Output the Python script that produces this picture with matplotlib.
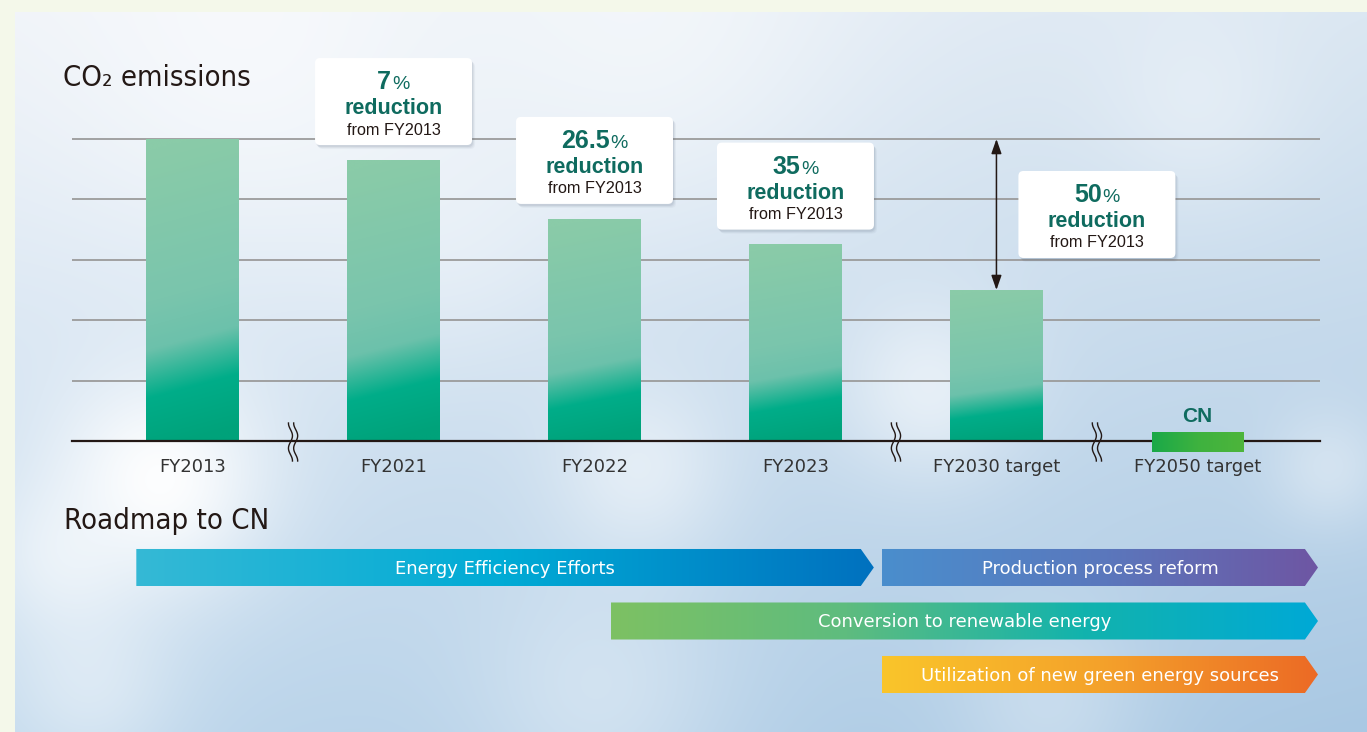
import numpy as np
import matplotlib
matplotlib.use('Agg')
import matplotlib.pyplot as plt
import matplotlib.transforms as mtransforms
from matplotlib.patches import FancyBboxPatch, Polygon
from matplotlib.colors import to_rgb

# --- data -------------------------------------------------------------
years = ['FY2013', 'FY2021', 'FY2022', 'FY2023', 'FY2030 target', 'FY2050 target']
emissions = [100, 93, 73.5, 65, 50, 0]          # index, FY2013 = 100
reductions = ['7', '26.5', '35', '50']           # % reduction from FY2013 (FY2021..FY2030)
cn_marker = (-3.6, 3.0)                          # small CN bar drawn across the baseline
axis_breaks = [0.5, 3.5, 4.5]

phases = ['Energy Efficiency Efforts', 'Production process reform',
          'Conversion to renewable energy', 'Utilization of new green energy sources']
phase_start = [-0.28, 3.43, 2.08, 3.43]
phase_end = [3.39, 5.60, 5.60, 5.60]
phase_row = [0, 0, 1, 2]
phase_colors = [['#35b9d6', '#00abd5', '#0071bf'],
                ['#4a8ecd', '#5a78bd', '#6e56a3'],
                ['#7dc163', '#5ebc7f', '#12b3ad', '#00a9d6'],
                ['#fac52a', '#f4a22b', '#ec6a25']]

W, H = 1367, 732
TEAL = '#0f6b5f'
INK = '#231815'
BOX_W, BOX_H = 157, 87

CLOUDS = [(160, 480, 110, 0.95), (60, 560, 80, 0.5), (250, 60, 220, 0.6),
          (650, 40, 200, 0.5), (640, 470, 90, 0.5), (930, 390, 90, 0.55),
          (450, 250, 120, 0.25), (1200, 110, 100, 0.3), (90, 690, 90, 0.4),
          (600, 700, 130, 0.35), (1050, 710, 100, 0.3), (1330, 470, 60, 0.35)]


def px_box(x0, y0, x1, y1):
    return [x0 / W, 1 - y1 / H, (x1 - x0) / W, (y1 - y0) / H]


def ramp(colors, t):
    stops = np.linspace(0, 1, len(colors))
    rgb = np.array([to_rgb(c) for c in colors])
    return np.stack([np.interp(t, stops, rgb[:, k]) for k in range(3)], axis=-1)


def sky_image():
    h, w = 360, 676
    gy, gx = np.mgrid[0:h, 0:w]
    X = gx / (w - 1)
    Y = gy / (h - 1)
    c = [np.array(to_rgb(k)) for k in ('#eef2f8', '#dbe7f2', '#c0d8ec', '#a9c8e3')]
    img = (((1 - X) * (1 - Y))[..., None] * c[0] + (X * (1 - Y))[..., None] * c[1]
           + ((1 - X) * Y)[..., None] * c[2] + (X * Y)[..., None] * c[3])
    px_x = 15 + X * (W - 15)
    px_y = 12 + Y * (H - 12)
    for cx, cy, r, a in CLOUDS:
        m = a * np.exp(-((px_x - cx) ** 2 + (px_y - cy) ** 2) / r ** 2)
        img = img * (1 - m[..., None]) + m[..., None]
    return np.clip(img, 0, 1)


def bar_gradient():
    t = np.linspace(0, 1, 200)[:, None]
    xf = np.linspace(0, 1, 20)[None, :]
    te = np.clip(t - 0.08 * (xf - 0.5), 0, 1)
    stops = [0, 0.18, 0.34, 0.5, 1.0]
    cols = np.array([to_rgb(k) for k in ('#00a27a', '#00ad89', '#6cc1ab', '#7ac5ad', '#8acba8')])
    return np.stack([np.interp(te, stops, cols[:, k]) for k in range(3)], axis=-1)


fig = plt.figure(figsize=(W / 100, H / 100), dpi=100, facecolor='#f4f8ea')

# sky background panel
bg = fig.add_axes(px_box(15, 12, W, H))
bg.imshow(sky_image(), aspect='auto', interpolation='bilinear')
bg.set_axis_off()

# --- emissions chart ----------------------------------------------------
ax = fig.add_axes(px_box(72, 139, 1320, 441))
xlim = (-0.6, 5.61)
ax.patch.set_visible(False)
for s in ax.spines.values():
    s.set_visible(False)
ax.set_yticks([])
x = np.arange(len(years))
ax.set_xticks(x, years, fontsize=13, color='#333333', family='DejaVu Sans')
ax.tick_params(axis='x', length=0, pad=12)

ax.hlines([20, 40, 60, 80, 100], xlim[0], xlim[1], color='#9b9b9b', lw=1.3, zorder=1, clip_on=False)
ax.axhline(0, color=INK, lw=1.6, zorder=4, clip_on=False)

bars = ax.bar(x[:5], emissions[:5], width=0.46, color='none', zorder=3)
for rect in bars:
    x0, bw, bh = rect.get_x(), rect.get_width(), rect.get_height()
    ax.imshow(bar_gradient(), extent=[x0, x0 + bw, 0, bh], origin='lower',
              aspect='auto', interpolation='bilinear', zorder=3)

cn = ax.bar(x[5], cn_marker[1] - cn_marker[0], bottom=cn_marker[0], width=0.455,
            color='none', clip_on=False)[0]
im = ax.imshow(ramp(['#1aa948', '#3eb23f', '#4db53b'], np.linspace(0, 1, 64))[None],
               extent=[cn.get_x(), cn.get_x() + cn.get_width(), cn_marker[0], cn_marker[1]],
               aspect='auto', interpolation='bilinear', zorder=5)
im.set_clip_on(False)
ax.text(x[5], 6.3, 'CN', ha='center', va='baseline', fontsize=15, fontweight='bold',
        color=TEAL, family='Liberation Sans')

ax.set_xlim(*xlim)
ax.set_ylim(0, 100)


def anchored(xd, yd):
    return mtransforms.Affine2D() + mtransforms.ScaledTranslation(xd, yd, ax.transData)


# axis break marks
wy = np.linspace(-19, 19, 80)
wave = 2.0 * np.sin(2 * np.pi * wy / 25)
for xb in axis_breaks:
    tr = anchored(xb, 0)
    for dx in (-2.6, 2.6):
        ax.plot(wave + dx, wy - 1, transform=tr, color=INK, lw=1.0, clip_on=False, zorder=5)

# 50% arrow between FY2013 level and FY2030 target
ax.annotate('', xy=(x[4], emissions[0]), xytext=(x[4], emissions[4]),
            arrowprops=dict(arrowstyle='<|-|>,head_length=0.8,head_width=0.28', color=INK,
                            lw=1.1, shrinkA=0, shrinkB=0, mutation_scale=11),
            annotation_clip=False, zorder=6)

renderer = fig.canvas.get_renderer()


def label_box(xd, yd, pct):
    tr = anchored(xd, yd)
    for k, a in enumerate([0.10, 0.07, 0.05]):
        ax.add_patch(FancyBboxPatch((-BOX_W / 2 + 1 + k, -2 - k), BOX_W, BOX_H,
                                    boxstyle='round,pad=0,rounding_size=5', transform=tr,
                                    fc='#4a5a70', ec='none', alpha=a, zorder=6, clip_on=False))
    ax.add_patch(FancyBboxPatch((-BOX_W / 2, 0), BOX_W, BOX_H,
                                boxstyle='round,pad=0,rounding_size=5', transform=tr,
                                fc='white', ec='none', zorder=7, clip_on=False))
    num = ax.text(0, 56, pct, transform=tr, fontsize=18, fontweight='bold', color=TEAL,
                  ha='left', va='baseline', family='Liberation Sans', zorder=8)
    sign = ax.text(0, 56, '%', transform=tr, fontsize=14, color=TEAL,
                   ha='left', va='baseline', family='Liberation Sans', zorder=8)
    wn = num.get_window_extent(renderer).width
    ws = sign.get_window_extent(renderer).width
    left = -(wn + ws + 1) / 2
    num.set_x(left)
    sign.set_x(left + wn + 1)
    ax.text(0, 31, 'reduction', transform=tr, fontsize=15.5, fontweight='bold', color=TEAL,
            ha='center', va='baseline', family='Liberation Sans', zorder=8)
    ax.text(0, 10.5, 'from FY2013', transform=tr, fontsize=11.7, color=INK,
            ha='center', va='baseline', family='Liberation Sans', zorder=8)


for i in range(3):
    label_box(x[i + 1], emissions[i + 1] + 5, reductions[i])
# target box sits beside the arrow, centred on its midpoint
label_box(axis_breaks[2], (emissions[0] + emissions[4]) / 2 - 14.4, reductions[3])

# --- roadmap ------------------------------------------------------------
rax = fig.add_axes(px_box(72, 540.75, 1320, 701.25))
rax.set_xlim(*xlim)
rax.set_ylim(2.5, -0.5)
rax.set_axis_off()
tip = 0.065
half = 0.346
for name, s, e, r, cols in zip(phases, phase_start, phase_end, phase_row, phase_colors):
    poly = Polygon([(s, r - half), (e - tip, r - half), (e, r), (e - tip, r + half), (s, r + half)],
                   closed=True, fc='none', ec='none')
    rax.add_patch(poly)
    g = rax.imshow(ramp(cols, np.linspace(0, 1, 256))[None], extent=[s, e, r + half, r - half],
                   aspect='auto', interpolation='bilinear', zorder=2)
    g.set_clip_path(poly)
    rax.text((s + e) / 2, r + 0.12, name, ha='center', va='baseline', fontsize=13,
             color='white', family='DejaVu Sans', zorder=3)
rax.set_xlim(*xlim)
rax.set_ylim(2.5, -0.5)

# --- titles -------------------------------------------------------------
title_font = dict(family=['Liberation Sans Narrow', 'DejaVu Sans'], fontstretch='condensed',
                  fontsize=21, color=INK)
fig.text(63 / W, 1 - 86 / H, 'CO\u2082 emissions', va='baseline', **title_font)
fig.text(64 / W, 1 - 529 / H, 'Roadmap to CN', va='baseline', **title_font)

fig.savefig('out.png', dpi=100, facecolor=fig.get_facecolor())
